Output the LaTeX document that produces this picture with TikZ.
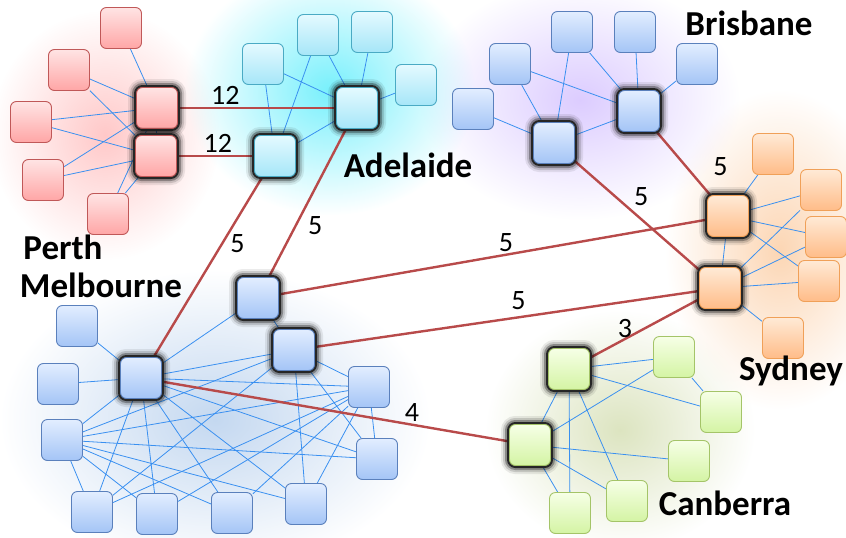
\documentclass[tikz,border=0pt]{standalone}
\usepackage{fontspec}
\setmainfont{Carlito}
\usetikzlibrary{fadings}

\pgfdeclarelayer{halo}
\pgfdeclarelayer{wires}
\pgfsetlayers{halo,wires,main}

% box palettes
\definecolor{redtop}{HTML}{FFE4E4}\definecolor{redbot}{HTML}{FFA6A6}\definecolor{redline}{HTML}{C05858}
\definecolor{cyantop}{HTML}{E4FAFF}\definecolor{cyanbot}{HTML}{A6E6F8}\definecolor{cyanline}{HTML}{4AAAC4}
\definecolor{bluetop}{HTML}{E2EEFF}\definecolor{bluebot}{HTML}{A4C4F6}\definecolor{blueline}{HTML}{5A80BC}
\definecolor{orgtop}{HTML}{FFEAD6}\definecolor{orgbot}{HTML}{FFBC88}\definecolor{orgline}{HTML}{F0A058}
\definecolor{grntop}{HTML}{F6FFE6}\definecolor{grnbot}{HTML}{D4F4A4}\definecolor{grnline}{HTML}{A4C468}
% wires
\definecolor{wireblue}{HTML}{3A90F0}
\definecolor{linkred}{HTML}{B84A4A}
% halos
\definecolor{haloRed}{HTML}{FFC8C8}
\definecolor{haloCyan}{HTML}{78F0FC}
\definecolor{haloPurple}{HTML}{DCCCFF}
\definecolor{haloOrange}{HTML}{FCD6B4}
\definecolor{haloBlue}{HTML}{C4D8F0}
\definecolor{haloGreen}{HTML}{DCE4C0}

\tikzfading[name=softglow, inner color=transparent!0, outer color=transparent!100]

\tikzset{
  box/.style={rectangle, rounded corners=6pt, minimum size=41pt, inner sep=0pt, line width=0.9pt},
  redbox/.style={box, draw=redline, top color=redtop, bottom color=redbot},
  cyanbox/.style={box, draw=cyanline, top color=cyantop, bottom color=cyanbot},
  bluebox/.style={box, draw=blueline, top color=bluetop, bottom color=bluebot},
  orgbox/.style={box, draw=orgline, top color=orgtop, bottom color=orgbot},
  grnbox/.style={box, draw=grnline, top color=grntop, bottom color=grnbot},
  hub/.style={
    preaction={draw=black, line width=17pt, opacity=0.08},
    preaction={draw=black, line width=13pt, opacity=0.14},
    preaction={draw=black, line width=9pt, opacity=0.30},
    preaction={draw=black!85, line width=5pt}},
  wire/.style={draw=wireblue, line width=0.8pt},
  link/.style={draw=linkred, line width=2.4pt},
  num/.style={font=\fontsize{28}{32}\selectfont, inner sep=2pt},
  city/.style={font=\bfseries\fontsize{35}{40}\selectfont, anchor=base, inner sep=0pt},
}

\begin{document}
\begin{tikzpicture}[x=1pt, y=-1pt]
\useasboundingbox (0,0) rectangle (846,538);

% soft coloured clouds behind each cluster
\begin{pgfonlayer}{halo}
  \fill[haloBlue,   path fading=softglow] (215,420) ellipse (215 and 150);
  \fill[haloGreen,  path fading=softglow] (620,430) ellipse (135 and 120);
  \fill[haloOrange, path fading=softglow] (780,250) ellipse (115 and 160);
  \fill[haloPurple, path fading=softglow] (580,100) ellipse (160 and 120);
  \fill[haloRed,    path fading=softglow] (105,135) ellipse (115 and 125);
  \fill[haloCyan,   path fading=softglow] (330,90)  ellipse (145 and 125);
\end{pgfonlayer}

% Perth
\node[redbox, hub] (pH1) at (157,108) {};
\node[redbox, hub] (pH2) at (156,156) {};
\node[redbox] (p1) at (121,28) {};
\node[redbox] (p2) at (69,70) {};
\node[redbox] (p3) at (31,122) {};
\node[redbox] (p4) at (43,180) {};
\node[redbox] (p5) at (108,214) {};

% Adelaide
\node[cyanbox, hub] (aH1) at (357,108) {};
\node[cyanbox, hub] (aH2) at (275,156) {};
\node[cyanbox] (a1) at (263,64) {};
\node[cyanbox] (a2) at (318,35) {};
\node[cyanbox] (a3) at (372,32) {};
\node[cyanbox] (a4) at (416,85) {};

% Brisbane
\node[bluebox, hub] (bH1) at (554,143) {};
\node[bluebox, hub] (bH2) at (639,111) {};
\node[bluebox] (b1) at (473,109) {};
\node[bluebox] (b2) at (510,64) {};
\node[bluebox] (b3) at (572,32) {};
\node[bluebox] (b4) at (635,32) {};
\node[bluebox] (b5) at (697,64) {};

% Sydney
\node[orgbox, hub] (sH1) at (728,216) {};
\node[orgbox, hub] (sH2) at (720,288) {};
\node[orgbox] (s1) at (773,154) {};
\node[orgbox] (s2) at (821,190) {};
\node[orgbox] (s3) at (826,237) {};
\node[orgbox] (s4) at (819,281) {};
\node[orgbox] (s5) at (783,338) {};

% Canberra
\node[grnbox, hub] (cH1) at (569,369) {};
\node[grnbox, hub] (cH2) at (530,445) {};
\node[grnbox] (c1) at (674,357) {};
\node[grnbox] (c2) at (721,412) {};
\node[grnbox] (c3) at (689,461) {};
\node[grnbox] (c4) at (627,501) {};
\node[grnbox] (c5) at (570,513) {};

% Melbourne
\node[bluebox, hub] (mH1) at (141,378) {};
\node[bluebox, hub] (mH2) at (258,298) {};
\node[bluebox, hub] (mH3) at (294,350) {};
\node[bluebox] (m1) at (77,326) {};
\node[bluebox] (m2) at (58,384) {};
\node[bluebox] (m3) at (62,440) {};
\node[bluebox] (m4) at (92,512) {};
\node[bluebox] (m5) at (157,514) {};
\node[bluebox] (m6) at (232,513) {};
\node[bluebox] (m7) at (306,504) {};
\node[bluebox] (m8) at (377,459) {};
\node[bluebox] (m9) at (369,387) {};

\begin{pgfonlayer}{wires}
  % links inside each cluster
  \foreach \a/\b in {p1/pH1, p2/pH1, p2/pH2, p3/pH1, p3/pH2, p4/pH1, p4/pH2, p5/pH1, p5/pH2, pH1/pH2,
                     a1/aH1, a1/aH2, a2/aH1, a2/aH2, a3/aH1, a4/aH1, aH1/aH2,
                     b1/bH1, b2/bH1, b2/bH2, b3/bH1, b3/bH2, b4/bH2, b5/bH2, bH1/bH2,
                     s1/sH1, s2/sH1, s3/sH1, s4/sH1, sH1/sH2, s2/sH2, s3/sH2, s4/sH2, s5/sH2,
                     c1/cH1, c2/cH1, cH1/cH2, c5/cH1, c4/cH1, c1/cH2, c3/cH2, c4/cH2, c5/cH2, c1/c2,
                     m1/mH1, m2/mH1, mH1/mH2, mH2/mH3, mH1/mH3, mH1/m9, mH1/m8, mH1/m7, mH1/m6,
                     mH1/m5, mH1/m4, mH1/m3, mH3/m4, mH3/m9, mH3/m8, mH3/m7, mH3/m3,
                     m9/m3, m9/m4, m9/m5, m9/m6, m9/m7, m9/m8,
                     m3/m8, m3/m7, m3/m6, m3/m5, m3/m4}
    \draw[wire] (\a) -- (\b);

  % weighted links between clusters
  \draw[link] (pH1) -- node[num, pos=0.30, above] {12} (aH1);
  \draw[link] (pH2) -- node[num, pos=0.53, above] {12} (aH2);
  \draw[link] (aH2) -- node[num, pos=0.37, right=5pt] {5} (mH1);
  \draw[link] (aH1) -- node[num, pos=0.65, right=9pt] {5} (mH2);
  \draw[link] (mH2) -- node[num, pos=0.53, above] {5} (sH1);
  \draw[link] (mH3) -- node[num, pos=0.53, above=4pt] {5} (sH2);
  \draw[link] (bH2) -- node[num, pos=0.55, right=24pt] {5} (sH1);
  \draw[link] (bH1) -- node[num, pos=0.33, right=15pt] {5} (sH2);
  \draw[link] (cH1) -- node[num, pos=0.32, above, inner sep=0pt] {3} (sH2);
  \draw[link] (mH1) -- node[num, pos=0.72, above] {4} (cH2);
\end{pgfonlayer}

% city names
\node[city] (tPerth)     at (63,259)  {Perth};
\node[city] (tMelbourne) at (101,297) {Melbourne};
\node[city] (tAdelaide)  at (408,177) {Adelaide};
\node[city] (tBrisbane)  at (749,35)  {Brisbane};
\node[city] (tSydney)    at (791,380) {Sydney};
\node[city] (tCanberra)  at (725,515) {Canberra};
\end{tikzpicture}
\end{document}
